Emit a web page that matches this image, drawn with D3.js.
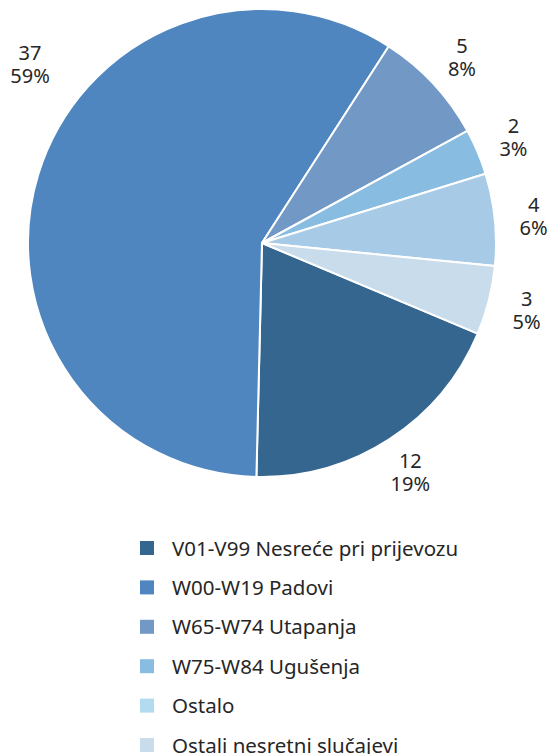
<!DOCTYPE html>
<html>
<head>
<meta charset="utf-8">
<script src="https://cdn.jsdelivr.net/npm/d3@7"></script>
<style>
  body { margin: 0; background: #fff; }
  svg { display: block; font-family: "Noto Sans", "Open Sans", sans-serif; }
</style>
</head>
<body>
<svg id="chart" width="552" height="754"></svg>
<script>
const categories = [
  "V01-V99 Nesreće pri prijevozu",
  "W00-W19 Padovi",
  "W65-W74 Utapanja",
  "W75-W84 Ugušenja",
  "Ostalo",
  "Ostali nesretni slučajevi"
];
const counts = [12, 37, 5, 2, 4, 3];
const percentLabels = ["19%", "59%", "8%", "3%", "6%", "5%"];

const sliceColors = ["#356690", "#4f86bf", "#7298c6", "#88bce0", "#a7cbe6", "#c9dcec"];
const legendColors = ["#356690", "#4f86bf", "#7298c6", "#88bce0", "#b3dbf0", "#c9dcec"];

const svg = d3.select("#chart");
const cx = 262, cy = 243, radius = 234;
const startDeg = 112.8;

const pie = d3.pie()
  .sort(null)
  .value((d) => d.value)
  .startAngle((startDeg * Math.PI) / 180)
  .endAngle((startDeg * Math.PI) / 180 + 2 * Math.PI);

const data = categories.map((c, i) => ({ name: c, value: counts[i], pct: percentLabels[i], i }));
const arcs = pie(data);

const arc = d3.arc().innerRadius(0).outerRadius(radius);

const g = svg.append("g").attr("transform", `translate(${cx},${cy})`);

g.selectAll("path.slice")
  .data(arcs)
  .enter()
  .append("path")
  .attr("class", "slice")
  .attr("d", arc)
  .attr("fill", (d) => sliceColors[d.data.i])
  .attr("stroke", "#fff")
  .attr("stroke-width", 2)
  .attr("stroke-linejoin", "round");

// data labels outside the pie, kept inside the svg
const labelR = 273;
const halfW = 22;
arcs.forEach((d) => {
  let a = (d.startAngle + d.endAngle) / 2;
  let x = labelR * Math.sin(a);
  let y = -labelR * Math.cos(a);
  if (cx + x - halfW < 8) {
    const r2 = labelR + 20;
    const sx = (8 + halfW - cx) / r2;
    const a2 = 2 * Math.PI + Math.asin(sx);
    x = r2 * Math.sin(a2);
    y = -r2 * Math.cos(a2);
  }
  const t = g.append("text")
    .attr("text-anchor", "middle")
    .attr("fill", "#262626")
    .attr("font-size", "20px");
  t.append("tspan").attr("x", x).attr("y", y - 4).text(d.data.value);
  t.append("tspan").attr("x", x).attr("y", y + 19).text(d.data.pct);
});

// legend
const legendY = d3.scalePoint().domain(categories).range([548, 745]);
const legend = svg.append("g");
const rows = legend.selectAll("g.row")
  .data(data)
  .enter()
  .append("g")
  .attr("class", "row")
  .attr("transform", (d) => `translate(140,${legendY(d.name)})`);

rows.append("rect")
  .attr("x", 0)
  .attr("y", -7)
  .attr("width", 14)
  .attr("height", 14)
  .attr("fill", (d) => legendColors[d.i]);

rows.append("text")
  .attr("x", 32)
  .attr("y", 7.5)
  .attr("fill", "#262626")
  .attr("font-size", "20.5px")
  .text((d) => d.name);
</script>
</body>
</html>
